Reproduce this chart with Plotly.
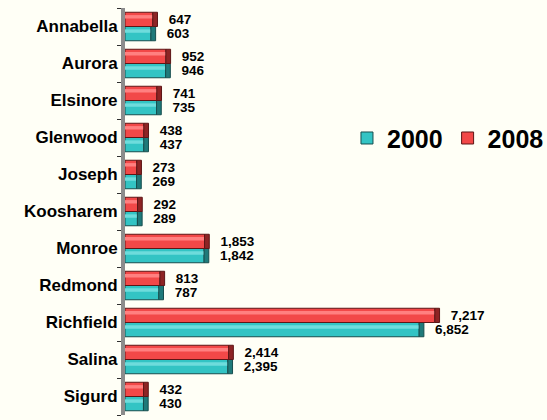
import plotly.graph_objects as go

towns = ["Annabella", "Aurora", "Elsinore", "Glenwood", "Joseph", "Koosharem",
         "Monroe", "Redmond", "Richfield", "Salina", "Sigurd"]
pop_2000 = [603, 946, 735, 437, 269, 289, 1842, 787, 6852, 2395, 430]
pop_2008 = [647, 952, 741, 438, 273, 292, 1853, 813, 7217, 2414, 432]

# style constants
BAR_W = 0.385
CAP = 110   # width of the dark cylinder end cap, in axis units (style only)
PAD = 190   # empty gap between the cap and its value label (style only)
FONT = "Liberation Sans, Arial, sans-serif"

series = [
    # name, values, main, highlight, cap colour, outline, offset
    ("2000", pop_2000, "#33C4C4", "#6EDCDC", "#1F7A7A", "#174E4E", -BAR_W),
    ("2008", pop_2008, "#F24848", "#FF8080", "#8E2424", "#5E1616", 0.0),
]

fig = go.Figure()
for name, vals, main, hi, capc, outline, off in series:
    fig.add_trace(go.Bar(
        name=name, y=towns, x=vals, orientation="h",
        offset=off, width=BAR_W,
        marker=dict(color=main, line=dict(color=outline, width=1)),
        hoverinfo="skip", showlegend=True,
    ))
    fig.add_trace(go.Bar(
        y=towns, x=vals, orientation="h",
        offset=off + BAR_W * 0.56, width=BAR_W * 0.24,
        marker=dict(color=hi, line=dict(width=0)),
        hoverinfo="skip", showlegend=False,
    ))
    fig.add_trace(go.Bar(
        y=towns, x=[CAP] * len(vals), base=vals, orientation="h",
        offset=off, width=BAR_W,
        marker=dict(color=capc, line=dict(color=outline, width=1)),
        hoverinfo="skip", showlegend=False,
    ))
    fig.add_trace(go.Bar(
        y=towns, x=[PAD] * len(vals), base=[v + CAP for v in vals], orientation="h",
        offset=off, width=BAR_W,
        marker=dict(color="rgba(0,0,0,0)", line=dict(width=0)),
        text=[f"{v:,}" for v in vals], textposition="outside",
        textfont=dict(family=FONT, size=13.5, color="black", weight="bold"),
        cliponaxis=False, hoverinfo="skip", showlegend=False,
    ))

fig.update_layout(
    width=547, height=420,
    paper_bgcolor="#FFFFF6", plot_bgcolor="#FFFFF6",
    margin=dict(l=125, r=0, t=8, b=5, autoexpand=False),
    barmode="overlay",
    font=dict(family=FONT, color="black"),
    showlegend=True,
    legend=dict(orientation="h", x=0.526, y=0.68, xanchor="left", yanchor="middle",
                font=dict(size=25, family=FONT, weight="bold"),
                bgcolor="rgba(0,0,0,0)", itemwidth=30, traceorder="normal"),
    uniformtext=dict(minsize=13, mode="show"),
)
fig.update_xaxes(range=[0, 9830], visible=False, showgrid=False, zeroline=False)
fig.update_yaxes(categoryorder="array", categoryarray=towns[::-1],
                 showline=True, linecolor="#8C8C8C", linewidth=4,
                 ticks="outside", ticklen=4, tickcolor="#303030", tickwidth=1,
                 tickson="boundaries", showgrid=False,
                 tickfont=dict(size=17, family=FONT, weight="bold"))

fig.write_html("out.html", config={"displayModeBar": False},
               post_script="document.body.style.margin='0px';")
